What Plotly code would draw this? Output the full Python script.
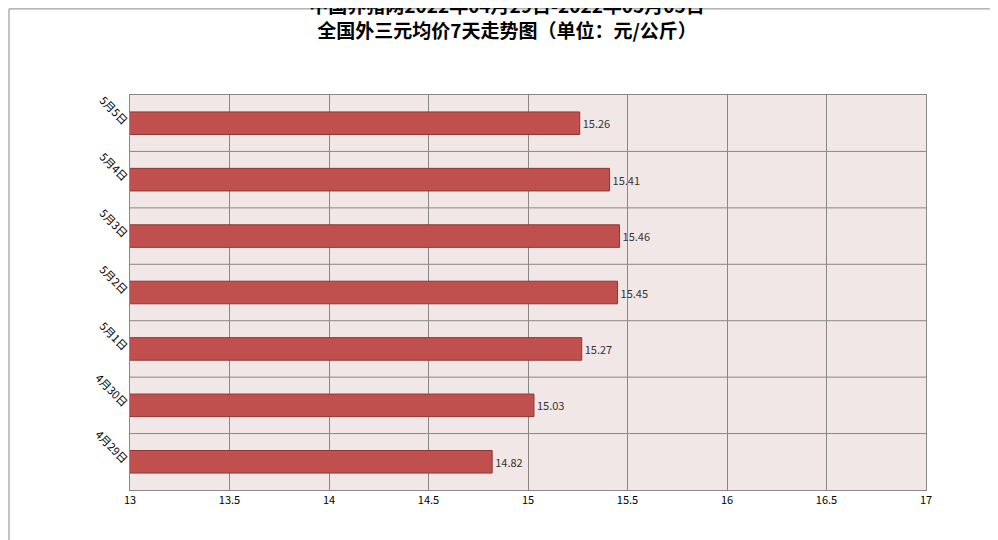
import plotly.graph_objects as go

dates = ["4月29日", "4月30日", "5月1日", "5月2日", "5月3日", "5月4日", "5月5日"]
prices = [14.82, 15.03, 15.27, 15.45, 15.46, 15.41, 15.26]

fig = go.Figure(go.Bar(
    y=dates, x=prices, orientation="h",
    marker=dict(color="#c0504d", line=dict(color="#8c3836", width=1)),
    text=[f"{v:.2f}" for v in prices], textposition="outside",
    textfont=dict(size=11, color="#333333"), cliponaxis=False,
))
fig.update_layout(
    width=998, height=540,
    margin=dict(l=122, r=80, t=87, b=58, autoexpand=False),
    paper_bgcolor="white", plot_bgcolor="#f2e7e7",
    font=dict(family="Noto Sans CJK SC"),
    title=dict(text="<b>中国养猪网2022年04月29日-2022年05月05日<br>全国外三元均价7天走势图（单位：元/公斤）</b>",
               x=0.5, xanchor="center", y=0.99, yanchor="top",
               font=dict(size=19, color="black", family="Noto Sans CJK SC")),
    bargap=0.6, showlegend=False,
    shapes=[dict(type="rect", xref="paper", yref="paper", x0=-0.1520, x1=1.0990, y0=-0.1443, y1=1.2180,
                 line=dict(color="#888888", width=1))],
)
fig.update_xaxes(range=[13, 17], dtick=0.5, showgrid=True, gridcolor="#888888", automargin=False,
                 linecolor="#888888", mirror=True, tickfont=dict(size=11, color="black"), ticks="")
fig.update_yaxes(showgrid=False, linecolor="#888888", mirror=True, automargin=False,
                 tickangle=45, tickfont=dict(size=11, color="black"), ticks="")
# category boundary lines
for i in range(len(dates) - 1):
    fig.add_hline(y=i + 0.5, line=dict(color="#888888", width=1))
fig.write_html("out.html")
